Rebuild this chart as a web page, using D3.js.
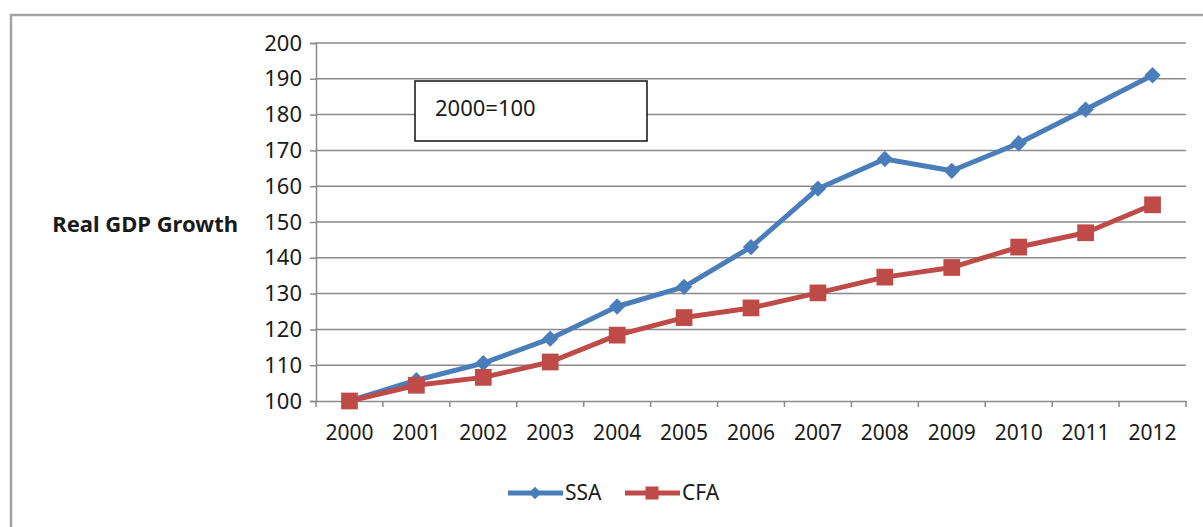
<!DOCTYPE html>
<html>
<head>
<meta charset="utf-8">
<script src="https://cdn.jsdelivr.net/npm/d3@7"></script>
<style>
  body { margin: 0; background: #fff; }
  svg { display: block; font-family: "Noto Sans", sans-serif; }
  .grid line { stroke: #8a8a8a; stroke-width: 1.5; }
</style>
</head>
<body>
<script>
// chart data
var years = ["2000","2001","2002","2003","2004","2005","2006","2007","2008","2009","2010","2011","2012"]
var ssa = [100, 105.8, 110.6, 117.4, 126.4, 131.9, 143, 159.3, 167.6, 164.3, 172, 181.4, 191]
var cfa = [100, 104.4, 106.6, 110.9, 118.4, 123.3, 126, 130.2, 134.6, 137.3, 143, 147, 154.8]
var yTicks = [100, 110, 120, 130, 140, 150, 160, 170, 180, 190, 200]
var seriesNames = ["SSA", "CFA"]
var seriesColors = ["#4A7EBB", "#BE4B48"]

var width = 1203, height = 527
var plot = {left: 316, right: 1186, top: 43, bottom: 401}

var svg = d3.select("body").append("svg")
    .attr("width", width).attr("height", height)

// outer chart frame
svg.append("rect")
    .attr("x", 11).attr("y", 15)
    .attr("width", 1220).attr("height", 600)
    .attr("fill", "none")
    .attr("stroke", "#a3a3a3").attr("stroke-width", 2.5)

var xscale = d3.scaleBand().domain(years).range([plot.left, plot.right]).padding(0)
var yscale = d3.scaleLinear().domain([100, 200]).range([plot.bottom, plot.top])
var cx = function(d) { return xscale(d) + xscale.bandwidth() / 2 }

// gridlines
svg.append("g").attr("class", "grid")
  .selectAll("line").data(yTicks.slice(1))
  .enter().append("line")
    .attr("x1", plot.left).attr("x2", plot.right)
    .attr("y1", function(d) { return yscale(d) })
    .attr("y2", function(d) { return yscale(d) })

// y axis
var yaxis = d3.axisLeft(yscale).tickValues(yTicks).tickSize(6).tickPadding(8)
var gy = svg.append("g").attr("transform", "translate(" + plot.left + ",0)").call(yaxis)
gy.select(".domain").attr("stroke", "#8a8a8a").attr("stroke-width", 1.5)
gy.selectAll(".tick line").attr("stroke", "#8a8a8a").attr("stroke-width", 1.5)
gy.selectAll(".tick text").attr("font-size", "22px").attr("fill", "#1a1a1a")
  .attr("font-family", "Noto Sans")

// x axis: ticks on category boundaries, labels centred
var xaxis = d3.axisBottom(xscale).tickSize(0).tickPadding(24)
var gx = svg.append("g").attr("transform", "translate(0," + plot.bottom + ")").call(xaxis)
gx.select(".domain").attr("stroke", "#8a8a8a").attr("stroke-width", 1.5)
gx.selectAll(".tick text").attr("font-size", "21px").attr("fill", "#1a1a1a")
  .attr("font-family", "Noto Sans")
gx.selectAll(".bound").data(years.concat(["end"]))
  .enter().append("line")
    .attr("x1", function(d, i) { return plot.left + i * xscale.bandwidth() })
    .attr("x2", function(d, i) { return plot.left + i * xscale.bandwidth() })
    .attr("y1", 0).attr("y2", 6)
    .attr("stroke", "#8a8a8a").attr("stroke-width", 1.5)

// axis title
svg.append("text")
    .attr("x", 238).attr("y", 224)
    .attr("dy", "0.35em")
    .attr("text-anchor", "end")
    .attr("font-size", "22px").attr("font-weight", "bold")
    .attr("fill", "#1a1a1a")
    .text("Real GDP Growth")

// annotation box
svg.append("rect")
    .attr("x", 415).attr("y", 81).attr("width", 232).attr("height", 60)
    .attr("fill", "#fff").attr("stroke", "#111").attr("stroke-width", 1.5)
svg.append("text")
    .attr("x", 435).attr("y", 116)
    .attr("font-size", "22px").attr("fill", "#1a1a1a")
    .text("2000=100")

// lines and markers
var line = d3.line().x(function(d) { return cx(d.year) }).y(function(d) { return yscale(d.value) })
var series = [ssa, cfa].map(function(vals, i) {
  return { name: seriesNames[i], color: seriesColors[i],
    points: vals.map(function(v, j) { return {year: years[j], value: v} }) }
})
var diamond = d3.symbol().type(d3.symbolDiamond2).size(170)
var square = d3.symbol().type(d3.symbolSquare).size(280)

series.forEach(function(s, i) {
  svg.append("path").datum(s.points)
    .attr("d", line)
    .attr("fill", "none").attr("stroke", s.color)
    .attr("stroke-width", 5).attr("stroke-linejoin", "round")
  svg.append("g").selectAll("path").data(s.points)
    .enter().append("path")
      .attr("d", i == 0 ? diamond : square)
      .attr("transform", function(d) { return "translate(" + cx(d.year) + "," + yscale(d.value) + ")" })
      .attr("fill", s.color)
})

// legend
var legendX = [508, 625]
var legend = svg.append("g").selectAll("g").data(series)
  .enter().append("g")
    .attr("transform", function(d, i) { return "translate(" + legendX[i] + ",493)" })
legend.append("line")
    .attr("x1", 0).attr("x2", 55).attr("y1", 0).attr("y2", 0)
    .attr("stroke", function(d) { return d.color }).attr("stroke-width", 5)
legend.append("path")
    .attr("d", function(d, i) { return i == 0 ? d3.symbol().type(d3.symbolDiamond2).size(100)() : d3.symbol().type(d3.symbolSquare).size(170)() })
    .attr("transform", "translate(27,0)")
    .attr("fill", function(d) { return d.color })
legend.append("text")
    .attr("x", 57).attr("y", 0).attr("dy", "0.35em")
    .attr("font-size", "21px").attr("fill", "#1a1a1a")
    .text(function(d) { return d.name })
</script>
</body>
</html>
